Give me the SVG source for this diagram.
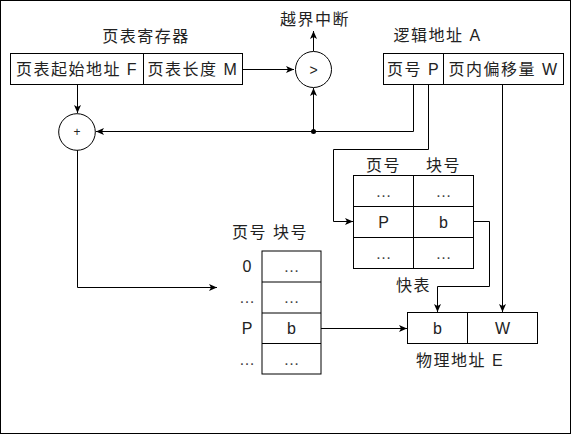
<svg xmlns="http://www.w3.org/2000/svg" width="571" height="434" viewBox="0 0 571 434">
<defs>
<marker id="ah" markerWidth="10" markerHeight="8" refX="8" refY="4" orient="auto" markerUnits="userSpaceOnUse">
<path d="M0,0.5 L8,4 L0,7.5 L2,4 Z" fill="#000"/>
</marker>
</defs>
<style>
text{font-family:"Liberation Sans","Noto Sans CJK SC",sans-serif;font-size:16px;fill:#222;text-anchor:middle;dominant-baseline:central}
.cj{letter-spacing:1.5px}
.box{fill:#fff;stroke:#000;stroke-width:1}
.ln{fill:none;stroke:#000;stroke-width:1}
.ar{fill:none;stroke:#000;stroke-width:1;marker-end:url(#ah)}
.dots{fill:#444}
</style>
<rect x="0.5" y="0.5" width="570" height="433" fill="#fff" stroke="#000"/>

<g id="connectors">
<path class="ar" d="M77.5,84 V113"/>
<path class="ar" d="M242,69.5 H294"/>
<path class="ar" d="M313.5,51 V31"/>
<path class="ar" d="M413.5,84 V131.5 H96"/>
<path class="ar" d="M313.5,131.5 V88"/>
<circle cx="313.5" cy="131.5" r="2.5" fill="#000"/>
<path class="ar" d="M428.5,84 V149.5 H333.5 V221.5 H353"/>
<path class="ar" d="M502.5,84 V312"/>
<path class="ar" d="M77.5,150 V287.5 H217"/>
<path class="ar" d="M473,221.5 H489.5 V286.5 H437.5 V312"/>
<path class="ar" d="M321,328.5 H407"/>
</g>

<g id="page-table-register">
<text class="cj" x="146" y="36">页表寄存器</text>
<rect class="box" x="10.5" y="53.5" width="232" height="31"/>
<line class="ln" x1="143.5" y1="53.5" x2="143.5" y2="84.5"/>
<text class="cj" x="77" y="69">页表起始地址 F</text>
<text class="cj" x="193" y="69">页表长度 M</text>
</g>

<g id="compare">
<circle class="box" cx="313.5" cy="69.5" r="18"/>
<text x="313.5" y="69.5" style="font-size:14px">&gt;</text>
<text class="cj" x="315" y="19.5">越界中断</text>
</g>

<g id="adder">
<circle class="box" cx="77" cy="132" r="18.3"/>
<text x="77" y="132" style="font-size:12px">+</text>
</g>

<g id="logical-address">
<text class="cj" x="437.5" y="35">逻辑地址 A</text>
<rect class="box" x="383.5" y="53.5" width="180" height="31"/>
<line class="ln" x1="443.5" y1="53.5" x2="443.5" y2="84.5"/>
<text class="cj" x="413.5" y="69">页号 P</text>
<text class="cj" x="503.5" y="69">页内偏移量 W</text>
</g>

<g id="tlb">
<text class="cj" x="383.5" y="165">页号</text>
<text class="cj" x="443.5" y="165">块号</text>
<rect class="box" x="353.5" y="175.5" width="120" height="93"/>
<line class="ln" x1="353.5" y1="206.5" x2="473.5" y2="206.5"/>
<line class="ln" x1="353.5" y1="237.5" x2="473.5" y2="237.5"/>
<line class="ln" x1="413.5" y1="175.5" x2="413.5" y2="268.5"/>
<text class="dots" x="383.5" y="191">…</text>
<text class="dots" x="443.5" y="191">…</text>
<text x="383.5" y="222">P</text>
<text x="443.5" y="222">b</text>
<text class="dots" x="383.5" y="253">…</text>
<text class="dots" x="443.5" y="253">…</text>
<text class="cj" x="413.5" y="285.5">快表</text>
</g>

<g id="page-table">
<text class="cj" x="270" y="232.5">页号 块号</text>
<rect class="box" x="262" y="251" width="59" height="123"/>
<line class="ln" x1="262" y1="282" x2="321" y2="282"/>
<line class="ln" x1="262" y1="313" x2="321" y2="313"/>
<line class="ln" x1="262" y1="343.5" x2="321" y2="343.5"/>
<text x="247" y="266.5">0</text>
<text class="dots" x="247" y="297.5">…</text>
<text x="247" y="328">P</text>
<text class="dots" x="247" y="359">…</text>
<text class="dots" x="291.5" y="266.5">…</text>
<text class="dots" x="291.5" y="297.5">…</text>
<text x="291.5" y="328">b</text>
<text class="dots" x="291.5" y="359">…</text>
</g>

<g id="physical-address">
<rect class="box" x="407.5" y="312.5" width="130" height="31"/>
<line class="ln" x1="467.5" y1="312.5" x2="467.5" y2="343.5"/>
<text x="437.5" y="328">b</text>
<text x="502.5" y="328">W</text>
<text class="cj" x="460" y="360">物理地址 E</text>
</g>
</svg>
